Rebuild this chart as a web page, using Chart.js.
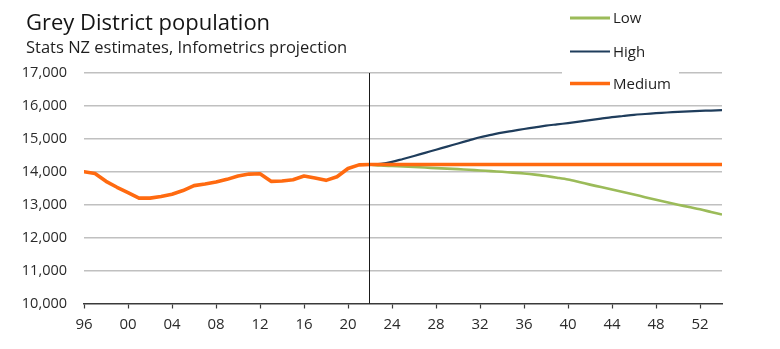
<!DOCTYPE html>
<html>
<head>
<meta charset="utf-8">
<script src="https://cdn.jsdelivr.net/npm/chart.js@4.4.1/dist/chart.umd.min.js"></script>
<style>
  html, body { margin: 0; padding: 0; background: #ffffff; }
  #wrap { width: 780px; height: 349px; }
</style>
</head>
<body>
<div id="wrap"><canvas id="popChart" width="780" height="349"></canvas></div>
<script>
// Grey District population: history (1996-2022) and projections (2022-2054)
const years = [
  1996, 1997, 1998, 1999, 2000, 2001, 2002, 2003, 2004, 2005,
  2006, 2007, 2008, 2009, 2010, 2011, 2012, 2013, 2014, 2015,
  2016, 2017, 2018, 2019, 2020, 2021, 2022, 2023, 2024, 2025,
  2026, 2027, 2028, 2029, 2030, 2031, 2032, 2033, 2034, 2035,
  2036, 2037, 2038, 2039, 2040, 2041, 2042, 2043, 2044, 2045,
  2046, 2047, 2048, 2049, 2050, 2051, 2052, 2053, 2054
];

// Medium series carries the Stats NZ estimates up to 2022, then the medium projection
const mediumValues = [
  14000, 13950, 13710, 13530, 13370, 13200, 13200, 13250, 13320, 13430,
  13580, 13630, 13690, 13770, 13870, 13930, 13940, 13710, 13720, 13760,
  13870, 13810, 13740, 13850, 14100, 14210, 14220, 14220, 14220, 14220,
  14220, 14220, 14220, 14220, 14220, 14220, 14220, 14220, 14220, 14220,
  14220, 14220, 14220, 14220, 14220, 14220, 14220, 14220, 14220, 14220,
  14220, 14220, 14220, 14220, 14220, 14220, 14220, 14220, 14220
];

const projectionYears = [
  2022, 2023, 2024, 2025, 2026, 2027, 2028, 2029, 2030, 2031,
  2032, 2033, 2034, 2035, 2036, 2037, 2038, 2039, 2040, 2041,
  2042, 2043, 2044, 2045, 2046, 2047, 2048, 2049, 2050, 2051,
  2052, 2053, 2054
];

const lowValues = [
  14220, 14190, 14175, 14160, 14145, 14130, 14110, 14095, 14080, 14060,
  14040, 14020, 14000, 13975, 13950, 13915, 13870, 13820, 13765, 13690,
  13610, 13535, 13460, 13385, 13310, 13230, 13150, 13075, 13000, 12930,
  12860, 12780, 12700
];

const highValues = [
  14220, 14240, 14300, 14390, 14480, 14575, 14670, 14765, 14860, 14955,
  15050, 15120, 15190, 15245, 15300, 15350, 15400, 15440, 15480, 15525,
  15570, 15615, 15660, 15695, 15730, 15755, 15780, 15800, 15820, 15835,
  15850, 15860, 15870
];

const tickYears = [1996, 2000, 2004, 2008, 2012, 2016, 2020, 2024, 2028, 2032, 2036, 2040, 2044, 2048, 2052];
const tickLabels = ['96', '00', '04', '08', '12', '16', '20', '24', '28', '32', '36', '40', '44', '48', '52'];
const yTicks = [10000, 11000, 12000, 13000, 14000, 15000, 16000, 17000];
const projectionStart = 2022;

const chartTitle = 'Grey District population';
const chartSubtitle = 'Stats NZ estimates, Infometrics projection';

const FONT = "'Open Sans', 'Noto Sans', sans-serif";

function pairs(xs, ys) {
  return xs.map((x, i) => ({ x: x, y: ys[i] }));
}

// Heading text, left-aligned above the plot
const heading = {
  id: 'heading',
  afterDraw(chart) {
    const { ctx } = chart;
    ctx.save();
    ctx.textAlign = 'left';
    ctx.textBaseline = 'alphabetic';
    ctx.fillStyle = '#141414';
    ctx.font = '22px ' + FONT;
    ctx.fillText(chartTitle, 26, 30);
    ctx.fillStyle = '#1e1e1e';
    ctx.font = '16.5px ' + FONT;
    ctx.fillText(chartSubtitle, 26, 53);
    ctx.restore();
  }
};

// Vertical divider between estimates and projections
const dividerLine = {
  id: 'dividerLine',
  afterDatasetsDraw(chart) {
    const { ctx, chartArea, scales } = chart;
    const x = Math.round(scales.x.getPixelForValue(projectionStart)) - 0.5;
    ctx.save();
    ctx.strokeStyle = '#1a1a1a';
    ctx.lineWidth = 1;
    ctx.beginPath();
    ctx.moveTo(x, chartArea.top);
    ctx.lineTo(x, chartArea.bottom);
    ctx.stroke();
    ctx.restore();
  }
};

// Stacked key in the top-right corner, on a white box over the top gridline
const keyBox = {
  id: 'keyBox',
  afterDraw(chart) {
    const { ctx } = chart;
    const rows = [18, 51.5, 83.5];
    ctx.save();
    ctx.fillStyle = '#ffffff';
    ctx.fillRect(562, 0, 117, 96);
    ctx.font = '15px ' + FONT;
    ctx.textBaseline = 'middle';
    ctx.textAlign = 'left';
    chart.data.datasets.forEach((ds, i) => {
      const y = rows[i];
      ctx.strokeStyle = ds.borderColor;
      ctx.lineWidth = ds.keyWidth;
      ctx.beginPath();
      ctx.moveTo(570, y);
      ctx.lineTo(610, y);
      ctx.stroke();
      ctx.fillStyle = '#1e1e1e';
      ctx.fillText(ds.label, 613, y + 1);
    });
    ctx.restore();
  }
};

new Chart(document.getElementById('popChart'), {
  type: 'line',
  data: {
    datasets: [
      {
        label: 'Low',
        data: pairs(projectionYears, lowValues),
        borderColor: '#9bbb59',
        borderWidth: 2.6,
        keyWidth: 3,
        pointRadius: 0,
        tension: 0.3,
        order: 2
      },
      {
        label: 'High',
        data: pairs(projectionYears, highValues),
        borderColor: '#1f3d5c',
        borderWidth: 2.2,
        keyWidth: 2.2,
        pointRadius: 0,
        tension: 0.3,
        order: 1
      },
      {
        label: 'Medium',
        data: pairs(years, mediumValues),
        borderColor: '#ff6a10',
        borderWidth: 3.6,
        keyWidth: 3.6,
        pointRadius: 0,
        tension: 0,
        borderJoinStyle: 'round',
        borderCapStyle: 'round',
        order: 0
      }
    ]
  },
  options: {
    responsive: false,
    animation: false,
    layout: { padding: { left: 8, right: 58, top: 73, bottom: 0 } },
    plugins: {
      legend: { display: false },
      tooltip: { enabled: false },
      title: { display: false },
      subtitle: { display: false }
    },
    scales: {
      x: {
        type: 'linear',
        min: 1996,
        max: 2054,
        afterBuildTicks(scale) {
          scale.ticks = tickYears.map(v => ({ value: v }));
        },
        afterFit(scale) { scale.height = 45.5; },
        grid: {
          drawOnChartArea: false,
          drawTicks: true,
          tickLength: 5,
          tickColor: '#3a3a3a',
          tickWidth: 1.2
        },
        border: { display: true, color: '#3a3a3a', width: 1.5 },
        ticks: {
          autoSkip: false,
          maxRotation: 0,
          padding: 7,
          color: '#2a2a2a',
          font: { family: FONT, size: 15 },
          callback(value) {
            const i = tickYears.indexOf(value);
            return i >= 0 ? tickLabels[i] : '';
          }
        }
      },
      y: {
        min: 10000,
        max: 17000,
        afterBuildTicks(scale) {
          scale.ticks = yTicks.map(v => ({ value: v }));
        },
        afterFit(scale) { scale.width = 76; },
        grid: {
          drawTicks: false,
          lineWidth: 1.5,
          color: ctx => (ctx.tick && ctx.tick.value === 10000 ? 'rgba(0,0,0,0)' : '#c0c0c0')
        },
        border: { display: false },
        ticks: {
          padding: 17,
          color: '#2a2a2a',
          font: { family: FONT, size: 14.5 },
          callback: value => value.toLocaleString('en-US')
        }
      }
    }
  },
  plugins: [heading, dividerLine, keyBox]
});
</script>
</body>
</html>
